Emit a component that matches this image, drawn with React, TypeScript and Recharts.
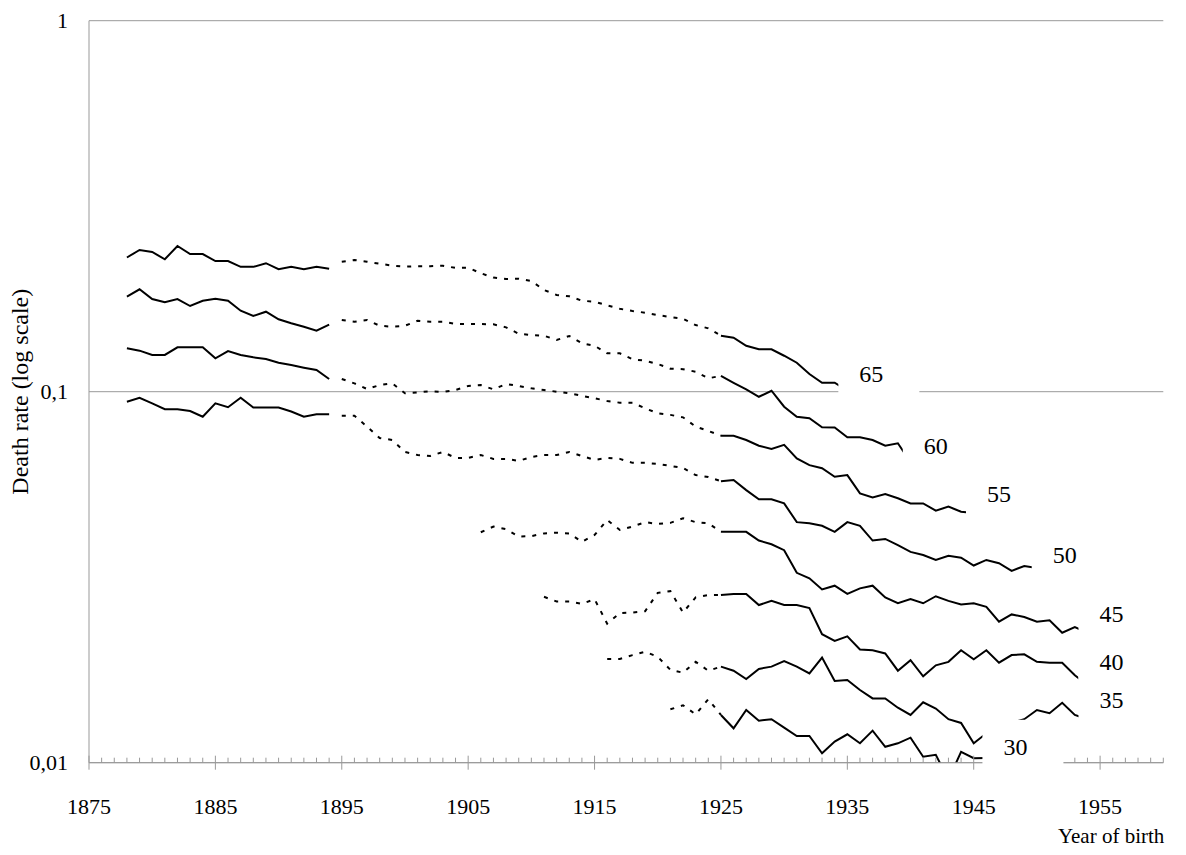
import React from 'react';
import { LineChart, Line, XAxis, YAxis, CartesianGrid, ReferenceDot } from 'recharts';

// ---- data (death rates, log scale) ----
// each segment: first year + yearly values
const s65Early = [0.230, 0.241, 0.238, 0.2275, 0.247, 0.235, 0.235, 0.225, 0.225, 0.217, 0.217, 0.222, 0.214, 0.217, 0.214, 0.217, 0.2145];
const s65Dotted = [0.2241, 0.2265, 0.224, 0.2213, 0.2186, 0.2172, 0.218, 0.218, 0.2186, 0.2156, 0.2158, 0.2086, 0.2030, 0.2013, 0.2016, 0.1988, 0.1880, 0.1823, 0.1808, 0.1759, 0.1748, 0.1709, 0.1673, 0.1650, 0.1633, 0.1609, 0.1589, 0.1573, 0.1512, 0.1482, 0.1416];
const s65Late = [0.1416, 0.1398, 0.1330, 0.1301, 0.1301, 0.1250, 0.1197, 0.1116, 0.1057, 0.1057, 0.1007];

const s60Early = [0.1804, 0.1888, 0.1777, 0.1742, 0.1777, 0.1702, 0.1759, 0.1780, 0.1759, 0.1653, 0.1600, 0.1643, 0.1567, 0.1529, 0.1497, 0.1460, 0.1516];
const s60Dotted = [0.1561, 0.1544, 0.1561, 0.1506, 0.1497, 0.1506, 0.1553, 0.1544, 0.1544, 0.1522, 0.1522, 0.1522, 0.1519, 0.1491, 0.1433, 0.1422, 0.1416, 0.1378, 0.1413, 0.1350, 0.1330, 0.1269, 0.1269, 0.1223, 0.1212, 0.1188, 0.1153, 0.1150, 0.1132, 0.1087, 0.1103];
const s60Late = [0.1103, 0.1057, 0.1015, 0.0969, 0.1006, 0.0911, 0.0856, 0.0848, 0.0802, 0.0801, 0.0754, 0.0754, 0.0741, 0.0715, 0.0726, 0.0646];

const s55Early = [0.1309, 0.1290, 0.1256, 0.1256, 0.1317, 0.1317, 0.1317, 0.1230, 0.1287, 0.1256, 0.1238, 0.1225, 0.1197, 0.1180, 0.1161, 0.1144, 0.1082];
const s55Dotted = [0.1082, 0.1053, 0.1017, 0.1042, 0.1053, 0.0990, 0.0996, 0.1003, 0.0998, 0.1011, 0.1036, 0.1042, 0.1015, 0.1049, 0.1036, 0.1021, 0.1011, 0.1000, 0.0990, 0.0975, 0.0960, 0.0944, 0.0934, 0.0934, 0.0902, 0.0875, 0.0866, 0.0853, 0.0805, 0.0784, 0.0761];
const s55Late = [0.0761, 0.0761, 0.0741, 0.0715, 0.0701, 0.0719, 0.0661, 0.0634, 0.0622, 0.0590, 0.0596, 0.0532, 0.0519, 0.0530, 0.0516, 0.0500, 0.0500, 0.0478, 0.0490, 0.0475, 0.0471];

const s50Early = [0.0940, 0.0963, 0.0930, 0.0897, 0.0897, 0.0887, 0.0856, 0.0930, 0.0908, 0.0963, 0.0906, 0.0906, 0.0906, 0.0884, 0.0856, 0.0869, 0.0869];
const s50Dotted = [0.0862, 0.0862, 0.0805, 0.0750, 0.0741, 0.0688, 0.0675, 0.0671, 0.0688, 0.0663, 0.0663, 0.0675, 0.0659, 0.0659, 0.0651, 0.0667, 0.0675, 0.0675, 0.0688, 0.0671, 0.0655, 0.0663, 0.0659, 0.0643, 0.0643, 0.0639, 0.0631, 0.0623, 0.0596, 0.0589, 0.0574];
const s50Late = [0.0574, 0.0578, 0.0543, 0.0513, 0.0513, 0.0500, 0.0445, 0.0442, 0.0435, 0.0419, 0.0445, 0.0435, 0.0397, 0.0401, 0.0386, 0.0370, 0.0363, 0.0352, 0.0361, 0.0357, 0.0340, 0.0352, 0.0345, 0.0329, 0.0339, 0.0335];

const s45Dotted = [0.0418, 0.0433, 0.0426, 0.0407, 0.0408, 0.0415, 0.0417, 0.0415, 0.0394, 0.0411, 0.0451, 0.0424, 0.0433, 0.0445, 0.0440, 0.0443, 0.0456, 0.0445, 0.0442, 0.0419];
const s45Late = [0.0419, 0.0419, 0.0419, 0.0397, 0.0388, 0.0374, 0.0325, 0.0314, 0.0293, 0.0300, 0.0285, 0.0295, 0.0300, 0.0279, 0.0269, 0.0276, 0.0269, 0.0281, 0.0273, 0.0267, 0.0269, 0.0263, 0.0240, 0.0251, 0.0247, 0.0240, 0.0242, 0.0224, 0.0232, 0.0224];

const s40Dotted = [0.0280, 0.0272, 0.0272, 0.0268, 0.0276, 0.0237, 0.0253, 0.0254, 0.0256, 0.0287, 0.0290, 0.0254, 0.0279, 0.0283, 0.0283];
const s40Late = [0.0283, 0.0285, 0.0285, 0.0266, 0.0273, 0.0266, 0.0266, 0.0261, 0.0222, 0.0213, 0.0219, 0.0202, 0.0201, 0.0197, 0.0177, 0.0189, 0.0171, 0.0183, 0.0187, 0.0201, 0.0190, 0.0201, 0.0186, 0.0195, 0.0196, 0.0187, 0.0186, 0.0186, 0.0172, 0.0162];

const s35Dotted = [0.01904, 0.01904, 0.0195, 0.0199, 0.0193, 0.0178, 0.01748, 0.0187, 0.0177, 0.01815];
const s35Late = [0.01815, 0.0177, 0.0168, 0.0179, 0.01815, 0.0188, 0.01815, 0.0174, 0.0192, 0.0166, 0.0167, 0.0157, 0.0149, 0.0149, 0.01407, 0.01345, 0.01455, 0.0140, 0.0131, 0.0128, 0.01128, 0.0120, 0.0123, 0.0128, 0.0131, 0.01387, 0.01359, 0.01451, 0.01345, 0.0131];

const s30Dotted = [0.01393, 0.01428, 0.0135, 0.01483, 0.01345];
const s30Late = [0.01345, 0.01238, 0.01387, 0.01298, 0.0131, 0.01243, 0.0118, 0.0118, 0.0106, 0.0114, 0.01193, 0.01128, 0.0122, 0.01104, 0.01128, 0.01168, 0.01038, 0.0105, 0.0090, 0.0107, 0.01028, 0.0103];

// segments: [first year, values, dotted?]
const segments: [number, number[], boolean][] = [
  [1878, s65Early, false], [1895, s65Dotted, true], [1925, s65Late, false],
  [1878, s60Early, false], [1895, s60Dotted, true], [1925, s60Late, false],
  [1878, s55Early, false], [1895, s55Dotted, true], [1925, s55Late, false],
  [1878, s50Early, false], [1895, s50Dotted, true], [1925, s50Late, false],
  [1906, s45Dotted, true], [1925, s45Late, false],
  [1911, s40Dotted, true], [1925, s40Late, false],
  [1916, s35Dotted, true], [1925, s35Late, false],
  [1921, s30Dotted, true], [1925, s30Late, false],
];

// end labels (age) and where they sit
const labelTexts = ['65', '60', '55', '50', '45', '40', '35', '30'];
const labelYears = [1936.9, 1942.0, 1947.0, 1952.2, 1955.9, 1955.9, 1955.9, 1948.3];
const labelValues = [0.112, 0.0716, 0.053, 0.0363, 0.0252, 0.0187, 0.01476, 0.01104];

const yTicks = [0.01, 0.1, 1];
const firstYear = 1875;
const lastYear = 1960;
const xTicks: number[] = [];
for (let y = firstYear; y <= lastYear; y++) xTicks.push(y);

const FONT = "'Liberation Serif', 'Times New Roman', serif";
const AXIS = '#999999';
const txtStyle = { fontFamily: FONT };

const toPoints = (start: number, values: number[]) => values.map((v, i) => ({ year: start + i, v }));

const XTick = (props: any) => {
  const { x, y, payload } = props;
  const yr = payload.value;
  const major = (yr - firstYear) % 10 === 0;
  return (
    <g>
      {major ? (
        <line x1={x} x2={x} y1={y - 7} y2={y + 7} stroke={AXIS} strokeWidth={1} />
      ) : (
        <line x1={x} x2={x} y1={y - 5} y2={y} stroke={AXIS} strokeWidth={1} />
      )}
      {major && (
        <text x={x} y={y + 51} textAnchor="middle" fontSize={22} style={txtStyle} fill="#000">
          {yr}
        </text>
      )}
    </g>
  );
};

const YTick = (props: any) => {
  const { x, y, payload } = props;
  return (
    <text x={x} y={y} dy="0.34em" textAnchor="end" fontSize={22} style={txtStyle} fill="#000">
      {String(payload.value).replace('.', ',')}
    </text>
  );
};

const makeLabelShape = (txt: string) => (props: any) => {
  const { cx, cy } = props;
  return (
    <g>
      <rect x={cx - 33} y={cy - 27} width={81} height={54} fill="#fff" />
      <text x={cx} y={cy} dy="0.35em" textAnchor="middle" fontSize={24} style={txtStyle} fill="#000">
        {txt}
      </text>
    </g>
  );
};

export default function App() {
  return (
    <div style={{ width: 1170, height: 840, fontFamily: FONT }}>
      <LineChart width={1170} height={840} margin={{ top: 12.7, right: 14.7, bottom: 25.3, left: 0 }}>
        <CartesianGrid horizontal vertical={false} stroke={AXIS} strokeWidth={1} />
        <XAxis
          type="number"
          dataKey="year"
          domain={[firstYear, lastYear]}
          ticks={xTicks}
          interval={0}
          allowDataOverflow
          height={60}
          tickSize={0}
          tickMargin={0}
          tickLine={false}
          axisLine={{ stroke: AXIS, strokeWidth: 1 }}
          tick={<XTick />}
          label={{
            content: (p: any) => {
              const vb = p.viewBox || {};
              return (
                <text x={vb.x + vb.width + 1} y={835} textAnchor="end" fontSize={21} style={txtStyle} fill="#000">
                  Year of birth
                </text>
              );
            },
          }}
        />
        <YAxis
          type="number"
          scale="log"
          domain={[0.01, 1]}
          ticks={yTicks}
          allowDataOverflow
          width={81}
          tickSize={0}
          tickMargin={21}
          tickLine={false}
          axisLine={{ stroke: AXIS, strokeWidth: 1 }}
          tick={<YTick />}
          label={{
            content: (p: any) => {
              const vb = p.viewBox || {};
              const cy = vb.y + vb.height / 2;
              return (
                <text
                  x={12}
                  y={cy}
                  transform={`rotate(-90, 12, ${cy})`}
                  textAnchor="middle"
                  dominantBaseline="central"
                  fontSize={24}
                  style={txtStyle}
                  fill="#000"
                >
                  Death rate (log scale)
                </text>
              );
            },
          }}
        />
        {segments.map(([start, values, dotted], i) => (
          <Line
            key={i}
            data={toPoints(start, values)}
            dataKey="v"
            type="linear"
            stroke="#000"
            strokeWidth={2}
            strokeDasharray={dotted ? '4 7' : undefined}
            dot={false}
            activeDot={false}
            isAnimationActive={false}
          />
        ))}
        {labelTexts.map((t, i) => (
          <ReferenceDot
            key={'l' + t}
            x={labelYears[i]}
            y={labelValues[i]}
            r={0}
            ifOverflow="visible"
            zIndex={2000}
            shape={makeLabelShape(t)}
          />
        ))}
      </LineChart>
    </div>
  );
}
